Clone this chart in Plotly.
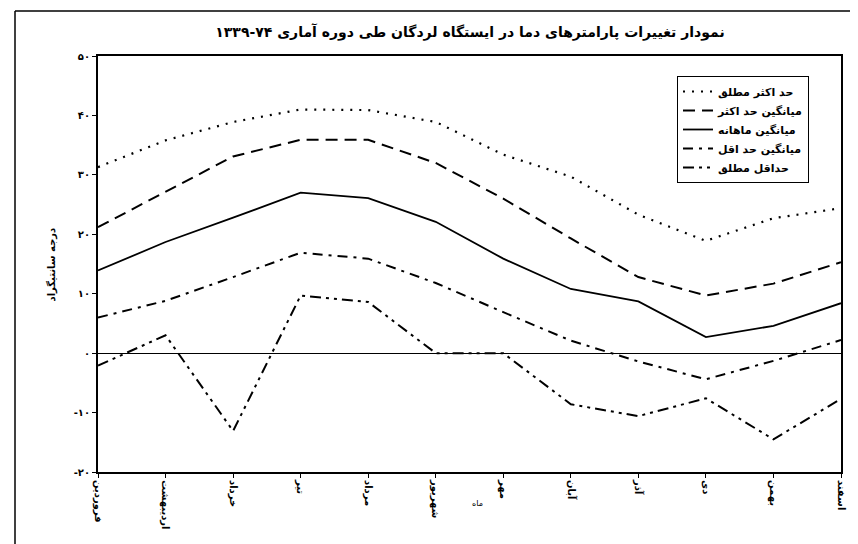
import plotly.graph_objects as go

months = ["فروردین", "اردیبهشت", "خرداد", "تیر", "مرداد", "شهریور",
          "مهر", "آبان", "آذر", "دی", "بهمن", "اسفند"]

abs_max = [31.3, 35.8, 38.9, 41.0, 40.9, 38.9, 33.4, 29.7, 23.3, 18.9, 22.7, 24.4]
mean_max = [21.2, 27.2, 33.1, 35.9, 35.9, 32.0, 26.0, 19.3, 12.8, 9.7, 11.7, 15.3]
mean_month = [13.9, 18.7, 22.8, 27.0, 26.1, 22.1, 15.9, 10.8, 8.7, 2.7, 4.6, 8.4]
mean_min = [6.0, 8.8, 12.8, 16.9, 15.9, 11.8, 6.9, 2.1, -1.4, -4.4, -1.3, 2.2]
abs_min = [-2.1, 3.0, -13.1, 9.7, 8.6, 0.0, 0.0, -8.6, -10.6, -7.6, -14.5, -7.7]

y_ticks = [50, 40, 30, 20, 10, 0, -10, -20]
y_ticktext = ["۵۰", "۴۰", "۳۰", "۲۰", "۱۰", "۰", "-۱۰", "-۲۰"]

series_names = ["حد اکثر مطلق", "میانگین حد اکثر", "میانگین ماهانه",
                "میانگین حد اقل", "حداقل مطلق"]
series = [abs_max, mean_max, mean_month, mean_min, abs_min]
dashes = ["2px,7px", "12px,7px", "solid", "10px,6px,3px,6px",
          "11px,5px,3px,5px,3px,5px"]
widths = [2.2, 2, 1.8, 2, 2]

FONT = "DejaVu Sans"
x = list(range(len(months)))

# page body has an 8px margin; work in reference-image pixels and shift
O = 8
W, H = 858 - O, 544 - O
L, R, T, B = 98 - O, 841 - O, 56 - O, 472 - O
pw, ph = R - L, B - T

def px(v):
    return (v - O - L) / pw

def py(v):
    return (B - (v - O)) / ph

fig = go.Figure()
for name, vals, d, w in zip(series_names, series, dashes, widths):
    fig.add_trace(go.Scatter(x=x, y=vals, mode="lines", name=name,
                             line=dict(color="black", width=w, dash=d)))

fig.update_layout(
    width=W, height=H,
    margin=dict(l=L, r=W - R, t=T, b=H - B, autoexpand=False),
    paper_bgcolor="white", plot_bgcolor="white",
    showlegend=True,
    legend=dict(x=px(677), y=py(76), xanchor="left", yanchor="top",
                bordercolor="black", borderwidth=1, bgcolor="white",
                font=dict(family=FONT, size=11, color="black", weight="bold"),
                tracegroupgap=0),
    title=dict(text="نمودار تغییرات پارامترهای دما در ایستگاه لردگان طی دوره آماری ۷۴-۱۳۳۹",
               x=(470 - O) / W, xanchor="center", y=1 - (32 - O) / H,
               yanchor="middle",
               font=dict(family=FONT, size=14, color="black", weight="bold")),
    xaxis=dict(range=[0, 11], tickvals=x, ticktext=months, tickangle=90,
               showgrid=False, zeroline=False, showline=True, linecolor="black",
               linewidth=2, mirror=True, ticks="outside", ticklen=4,
               tickcolor="black", automargin=False,
               tickfont=dict(family=FONT, size=10, color="black", weight="bold")),
    yaxis=dict(range=[-20, 50], tickvals=y_ticks, ticktext=y_ticktext,
               showgrid=False, zeroline=True, zerolinecolor="black",
               zerolinewidth=1, showline=True, linecolor="black", linewidth=2,
               mirror=True, ticks="outside", ticklen=4, tickcolor="black",
               automargin=False,
               tickfont=dict(family=FONT, size=10, color="black", weight="bold")),
)

fig.add_annotation(text="درجه سانتیگراد", x=px(42), y=py(265), xref="paper",
                   yref="paper", textangle=-90, showarrow=False,
                   font=dict(family=FONT, size=10, color="black", weight="bold"))
fig.add_annotation(text="ماه", x=px(477), y=py(510), xref="paper", yref="paper",
                   showarrow=False, font=dict(family=FONT, size=8, color="black"))

# outer chart frame (left and top edges visible)
fig.add_shape(type="line", xref="paper", yref="paper", x0=px(15), x1=px(15),
              y0=py(11), y1=py(544), line=dict(color="black", width=1.5))
fig.add_shape(type="line", xref="paper", yref="paper", x0=px(15), x1=px(852),
              y0=py(11), y1=py(11), line=dict(color="black", width=1.5))

fig.write_html("out.html")
